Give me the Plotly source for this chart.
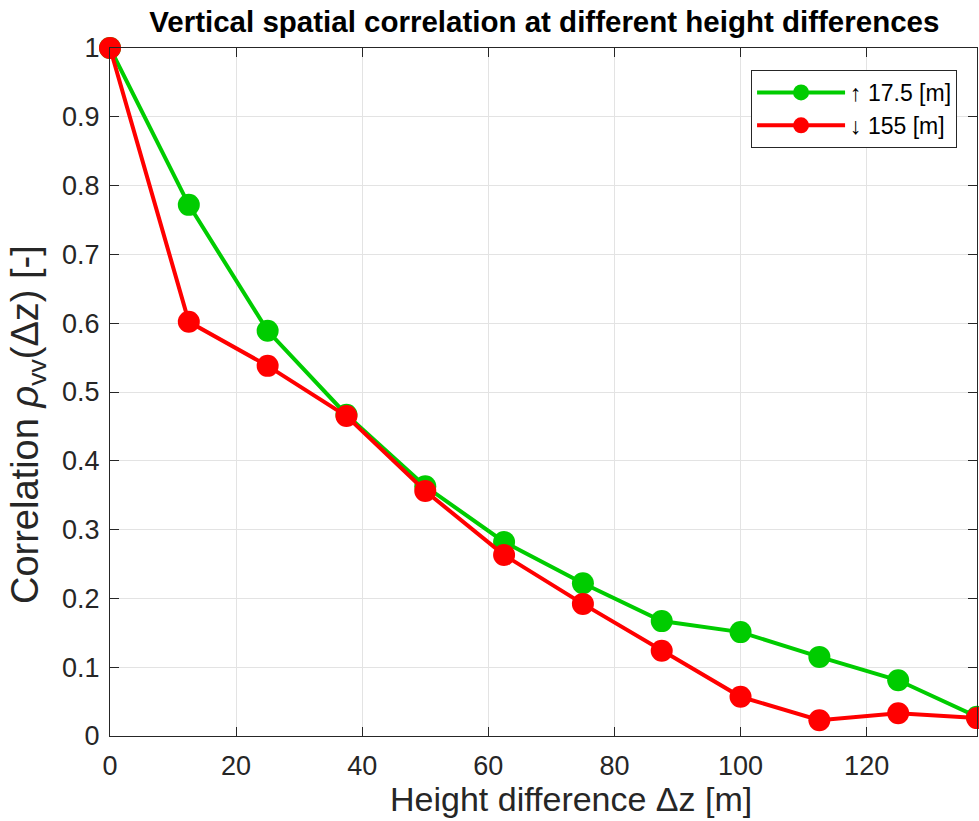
import plotly.graph_objects as go

# Height differences [m]
dz = [0, 12.5, 25, 37.5, 50, 62.5, 75, 87.5, 100, 112.5, 125, 137.5]

# Vertical correlation for the two reference heights
rho_up = [1.0, 0.772, 0.589, 0.467, 0.363, 0.282, 0.222, 0.167, 0.151, 0.115, 0.081, 0.028]
rho_down = [1.0, 0.602, 0.538, 0.465, 0.356, 0.263, 0.192, 0.124, 0.057, 0.023, 0.033, 0.026]

names = ["\u2191 17.5 [m]", "\u2193 155 [m]"]
colors = ["#00CC00", "#FF0000"]

x_ticks = [0, 20, 40, 60, 80, 100, 120]
y_ticks = [0, 0.1, 0.2, 0.3, 0.4, 0.5, 0.6, 0.7, 0.8, 0.9, 1]
y_tick_text = ["0", "0.1", "0.2", "0.3", "0.4", "0.5", "0.6", "0.7", "0.8", "0.9", "1"]

x_label = "Height difference \u0394z [m]"
y_label = "Correlation <i>\u03c1</i><sub>vv</sub>(\u0394z) [-]"
title = "<b>Vertical spatial correlation at different height differences</b>"

font = "Liberation Sans, Arial, sans-serif"

fig = go.Figure()
for vals, name, col in zip([rho_up, rho_down], names, colors):
    fig.add_trace(go.Scatter(
        x=dz, y=vals, name=name, mode="lines+markers",
        line=dict(color=col, width=4),
        marker=dict(color=col, size=22, line=dict(width=0)),
        cliponaxis=False,
    ))

axis_common = dict(
    showline=True, linecolor="#262626", linewidth=1, mirror="ticks",
    ticks="inside", ticklen=9, tickcolor="#262626", tickwidth=1,
    showgrid=True, gridcolor="#E3E3E3", gridwidth=1,
    zeroline=False,
    tickfont=dict(family=font, size=27, color="#262626"),
)

fig.update_layout(
    width=979, height=821,
    paper_bgcolor="white", plot_bgcolor="white",
    margin=dict(l=110, r=2, t=48, b=85),
    title=dict(
        text=title,
        x=0.556, xanchor="center", y=0.973, yanchor="middle",
        font=dict(family=font, size=29.5, color="black"),
    ),
    xaxis=dict(range=[0, 137.5], tickvals=x_ticks, ticklabelstandoff=6, **axis_common),
    yaxis=dict(range=[0, 1], tickvals=y_ticks, ticktext=y_tick_text,
               ticklabelstandoff=4, **axis_common),
    legend=dict(
        x=0.977, xanchor="right", y=0.968, yanchor="top",
        bgcolor="white", bordercolor="#262626", borderwidth=1,
        font=dict(family=font, size=23, color="black"),
        itemwidth=88, tracegroupgap=0,
    ),
    showlegend=True,
)

# Axis labels
fig.add_annotation(
    text=x_label, xref="paper", yref="paper", x=0.532, y=0,
    xanchor="center", yanchor="middle", yshift=-63, showarrow=False,
    font=dict(family=font, size=34, color="#262626"),
)
fig.add_annotation(
    text=y_label, xref="paper", yref="paper", x=0, y=0.452,
    xanchor="center", yanchor="middle", xshift=-82, textangle=-90, showarrow=False,
    font=dict(family=font, size=38, color="#262626"),
)

fig.write_html("out.html")
